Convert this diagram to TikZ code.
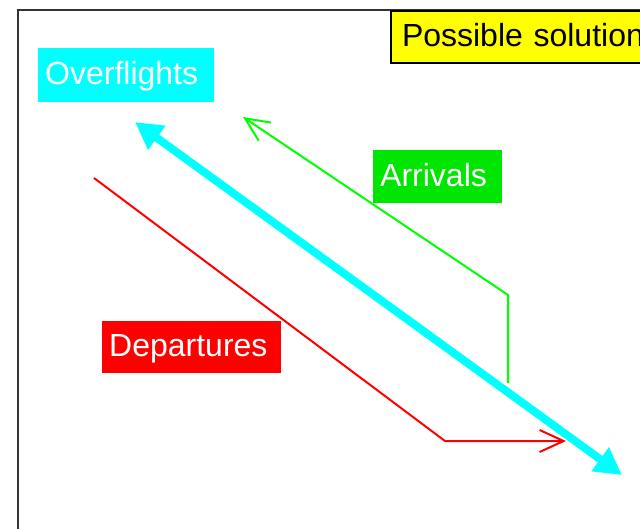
\documentclass[tikz,border=0pt]{standalone}
\usepackage{fontspec}
\setmainfont{Liberation Sans}
\usetikzlibrary{arrows.meta}
\definecolor{ovcyan}{RGB}{0,255,255}
\definecolor{argreen}{RGB}{0,230,0}
\definecolor{lngreen}{RGB}{0,255,0}
\definecolor{dpred}{RGB}{255,0,0}
\definecolor{solyellow}{RGB}{255,255,0}
\tikzset{
  lbl/.style={anchor=north west, inner xsep=7pt, inner ysep=0pt, align=left,
    text=white, font=\fontsize{32}{38}\selectfont, text height=24pt, text depth=5pt},
  thin arrow/.style={line width=2pt, -{Straight Barb[length=24pt,width=22pt]}},
  thick arrow/.style={line width=8pt, ovcyan, {Triangle[length=27pt,width=28pt]}-{Triangle[length=27pt,width=28pt]}}
}
\begin{document}
\begin{tikzpicture}[x=1pt,y=-1pt]
\useasboundingbox (0,0) rectangle (640,528);
\clip (0,0) rectangle (640,528);
\fill[white] (0,0) rectangle (640,528);
% frame
\draw[line width=2pt, black!80] (18,10) rectangle (700,600);
% labels
\node[lbl, fill=ovcyan, minimum width=176pt, minimum height=54pt, text width=162pt] (ov) at (38,48) {Overflights};
\node[lbl, fill=argreen, minimum width=129pt, minimum height=53pt, text width=115pt] (arr) at (373,150) {Arrivals};
\node[lbl, fill=dpred, minimum width=179pt, minimum height=52pt, text width=165pt] (dep) at (102,321) {Departures};
\node[lbl, text=black, fill=solyellow, draw=black, line width=2pt, inner xsep=11pt,
  minimum height=52pt, text width=300pt] (sol) at (390,10) {Possible solution};
% arrow end points
\coordinate (c1) at (135,122);
\coordinate (c2) at (622,475);
\coordinate (g0) at (508,383);
\coordinate (g1) at (508,295);
\coordinate (g2) at (243,117);
\coordinate (r0) at (94,178);
\coordinate (r1) at (445,441);
\coordinate (r2) at (566,441);
% arrows
\draw[thin arrow, lngreen] (g0) -- (g1) -- (g2);
\draw[thin arrow, dpred] (r0) -- (r1) -- (r2);
\draw[thick arrow] (c1) -- (c2);
\end{tikzpicture}
\end{document}
